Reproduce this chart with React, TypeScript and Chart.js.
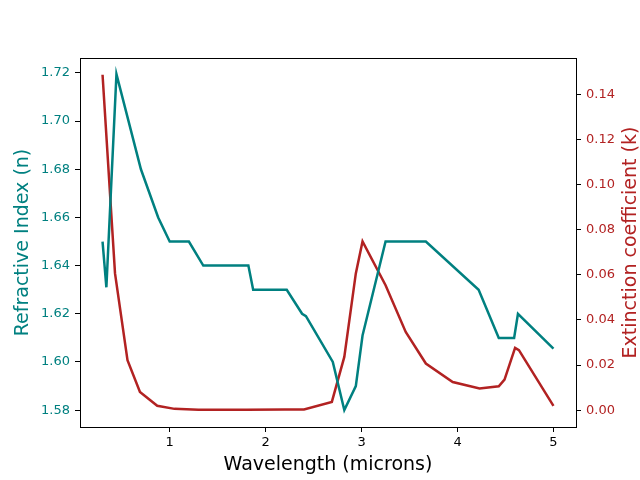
import React, { useEffect, useRef } from "react";
import { Chart, registerables } from "chart.js";

Chart.register(...registerables);

// Refractive index (n) series
const N_WAVELENGTH = [0.30, 0.34, 0.445, 0.70, 0.88, 1.00, 1.20, 1.35, 1.82, 1.87, 2.22, 2.38, 2.42, 2.70, 2.82, 2.94, 3.01, 3.25, 3.67, 4.22, 4.43, 4.59, 4.63, 5.00];
const N_VALUES = [1.650, 1.631, 1.7195, 1.680, 1.660, 1.650, 1.650, 1.640, 1.640, 1.630, 1.630, 1.620, 1.619, 1.600, 1.580, 1.590, 1.611, 1.650, 1.650, 1.630, 1.610, 1.610, 1.620, 1.6055];

// Extinction coefficient (k) series
const K_WAVELENGTH = [0.30, 0.43, 0.56, 0.69, 0.87, 1.05, 1.30, 1.80, 2.20, 2.40, 2.69, 2.82, 2.94, 3.01, 3.25, 3.46, 3.67, 3.95, 4.23, 4.43, 4.49, 4.60, 4.64, 5.00];
const K_VALUES = [0.1486, 0.0606, 0.0222, 0.0081, 0.0020, 0.0006, 0.0002, 0.0002, 0.0003, 0.0003, 0.0037, 0.0236, 0.0606, 0.0748, 0.0554, 0.0347, 0.0207, 0.0125, 0.0096, 0.0106, 0.0136, 0.0276, 0.0266, 0.0019];

const X_TICKS = [1, 2, 3, 4, 5];
const N_TICKS = [1.58, 1.60, 1.62, 1.64, 1.66, 1.68, 1.70, 1.72];
const K_TICKS = [0.00, 0.02, 0.04, 0.06, 0.08, 0.10, 0.12, 0.14];

const X_TITLE = "Wavelength (microns)";
const N_TITLE = "Refractive Index (n)";
const K_TITLE = "Extinction coefficient (k)";

const TEAL = "#008080";
const RED = "#b22222";
const FONT = "'DejaVu Sans', sans-serif";

export default function App() {
  const ref = useRef<HTMLCanvasElement | null>(null);

  useEffect(() => {
    if (!ref.current) return;
    const framePlugin = {
      id: "frame",
      afterDraw(chart: any) {
        const { ctx, chartArea } = chart;
        ctx.save();
        ctx.strokeStyle = "#000";
        ctx.lineWidth = 1;
        ctx.strokeRect(chartArea.left + 0.5, chartArea.top + 0.5, chartArea.right - chartArea.left, chartArea.bottom - chartArea.top);
        // right axis title, reading bottom-to-top
        ctx.translate(631.5, (chartArea.top + chartArea.bottom) / 2);
        ctx.rotate(-Math.PI / 2);
        ctx.fillStyle = RED;
        ctx.font = `19px ${FONT}`;
        ctx.textAlign = "center";
        ctx.textBaseline = "middle";
        ctx.fillText(K_TITLE, 0, 0);
        ctx.restore();
      },
    };

    const chart = new Chart(ref.current, {
      type: "scatter",
      data: {
        datasets: [
          {
            label: "n",
            data: N_WAVELENGTH.map((x, i) => ({ x, y: N_VALUES[i] })),
            showLine: true,
            borderColor: TEAL,
            borderWidth: 2.5,
            pointRadius: 0,
            yAxisID: "yn",
          },
          {
            label: "k",
            data: K_WAVELENGTH.map((x, i) => ({ x, y: K_VALUES[i] })),
            showLine: true,
            borderColor: RED,
            borderWidth: 2.5,
            pointRadius: 0,
            yAxisID: "yk",
          },
        ],
      },
      options: {
        animation: false,
        responsive: false,
        layout: { padding: { top: 58, left: 0, right: 0, bottom: 0 } },
        plugins: { legend: { display: false }, tooltip: { enabled: false } },
        scales: {
          x: {
            type: "linear",
            position: "bottom",
            min: 0.065,
            max: 5.235,
            afterBuildTicks: (s: any) => { s.ticks = X_TICKS.map((v) => ({ value: v })); },
            afterFit: (s: any) => { s.height = 53; },
            grid: { drawOnChartArea: false, drawTicks: true, tickLength: 5, color: "#000" },
            border: { display: true, color: "#000", width: 1 },
            ticks: { color: "#000", font: { family: FONT, size: 13 }, padding: 3, maxRotation: 0, callback: (v: any) => String(v) },
            title: { display: true, text: X_TITLE, color: "#000", font: { family: FONT, size: 19, lineHeight: 1 }, padding: { top: 0, bottom: 5 } },
          },
          yn: {
            type: "linear",
            position: "left",
            min: 1.573,
            max: 1.7262,
            afterBuildTicks: (s: any) => { s.ticks = N_TICKS.map((v) => ({ value: v })); },
            afterFit: (s: any) => { s.width = 80; },
            grid: { drawOnChartArea: false, drawTicks: true, tickLength: 5, color: "#000" },
            border: { display: true, color: "#000", width: 1 },
            ticks: { color: TEAL, font: { family: FONT, size: 13 }, padding: 5, callback: (v: any) => Number(v).toFixed(2) },
            title: { display: true, text: N_TITLE, color: TEAL, font: { family: FONT, size: 19, lineHeight: 1 }, padding: { top: 14, bottom: 0 } },
          },
          yk: {
            type: "linear",
            position: "right",
            min: -0.00743,
            max: 0.15603,
            afterBuildTicks: (s: any) => { s.ticks = K_TICKS.map((v) => ({ value: v })); },
            afterFit: (s: any) => { s.width = 64; },
            grid: { drawOnChartArea: false, drawTicks: true, tickLength: 5, color: "#000" },
            border: { display: true, color: "#000", width: 1 },
            ticks: { color: RED, font: { family: FONT, size: 13 }, padding: 5, callback: (v: any) => Number(v).toFixed(2) },
          },
        },
      },
      plugins: [framePlugin],
    } as any);
    return () => chart.destroy();
  }, []);

  return (
    <div style={{ position: "absolute", left: 0, top: 0, width: 640, height: 480, background: "#fff" }}>
      <canvas ref={ref} width={640} height={480} style={{ width: 640, height: 480, display: "block" }} />
    </div>
  );
}
